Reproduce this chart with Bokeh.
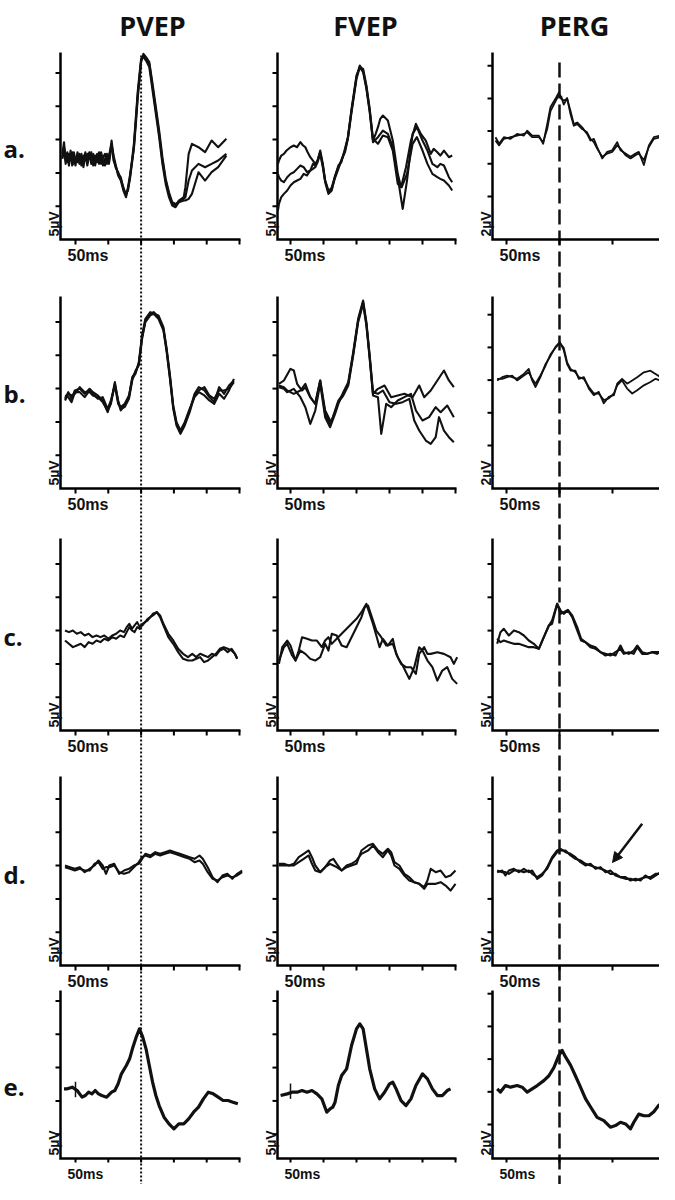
import math
from bokeh.plotting import figure
from bokeh.models import Range1d, Arrow, NormalHead
from bokeh.core.properties import value
from bokeh.embed import file_html
from bokeh.resources import INLINE

# ------------------------------------------------------------------ data
COLUMNS = ["PVEP", "FVEP", "PERG"]
ROW_KEYS = ["a", "b", "c", "d", "e"]
ROW_LABELS = ["a.", "b.", "c.", "d.", "e."]
SCALE_LABELS = {
    "a": ["5µV", "5µV", "2µV"],
    "b": ["5µV", "5µV", "2µV"],
    "c": ["5µV", "5µV", "5µV"],
    "d": ["5µV", "5µV", "5µV"],
    "e": ["5µV", "5µV", "2µV"],
}
TIME_LABEL = "50ms"
VEP_TICKS_MS = [0, 50, 100, 150, 200, 250]
PERG_TICKS_MS = [0, 50, 100, 150]
P100_MS = 100          # dotted reference line (PVEP)
P50_MS = 50            # dashed reference line (PERG)
ARROW_FROM = (128, 7.0)   # PERG row d, ms / µV
ARROW_TO = (100, 1.2)
STIM_MS = 0

# ---- row a
PVEP_A_T = [-20,-17.5,-15,-12.5,-10,-7.5,-5,-2.5,0,3,6,9,12,15,18,21,24,27,30,33,36,39,42,45,48,51,55,58,61,65,69,73,77,80,83,86,89,92,95,100,103.5,107.5,112.5,117.5,122.5,127.5,132.5,137.5,142.5,147.5,152.5,157.5,165,167.5,172.5,177.5,187.5,197.5,207.5,217.5,230]
PVEP_A1_V = [0.5,2.25,-0.5,0.75,-1.25,1.0,-0.75,0.25,-1.25,0.75,-0.5,0.5,-1.5,0.25,-0.75,0.75,-1.0,0.0,-1.25,0.5,-0.5,0.25,-1.25,-0.25,0.25,-0.5,2.5,0.0,-1.5,-2.25,-3.25,-4.5,-5.75,-4.75,-3.25,-1.0,1.5,5.5,9.5,14.5,15.25,14.75,14.0,10.5,7.0,3.5,-0.5,-3.5,-5.5,-7.0,-7.25,-6.5,-6.0,-4.5,0.5,2.0,1.5,0.75,2.5,1.5,2.75]
PVEP_A2_V = [-0.25,1.5,0.25,-0.75,0.5,-0.5,0.75,-1.0,0.0,-0.75,0.5,-1.25,0.25,-0.5,0.5,-0.25,0.75,-1.25,0.25,-0.75,0.75,-1.0,0.0,0.5,-1.0,0.25,2.0,-0.5,-1.25,-2.5,-3.0,-4.75,-5.5,-5.0,-3.0,-0.5,2.0,6.0,10.0,14.75,15.0,14.5,13.5,10.0,6.5,3.0,-1.0,-4.0,-6.0,-7.25,-7.5,-6.75,-6.25,-6.0,-3.5,-2.0,-1.0,-1.5,-1.0,-0.5,0.5]
PVEP_A3_V = [0.0,1.0,-1.0,0.5,-0.5,0.25,-1.25,0.75,-0.5,0.25,-1.0,0.0,-0.75,0.75,-1.25,0.25,-0.25,0.5,-0.5,-0.25,-1.0,0.75,-0.5,-1.25,0.5,-1.0,1.75,0.25,-1.0,-2.75,-3.5,-5.0,-6.0,-4.5,-2.75,-0.75,1.25,5.0,9.0,14.25,15.5,15.0,14.25,11.0,7.5,4.0,0.0,-3.25,-5.25,-6.75,-7.0,-6.75,-6.5,-6.5,-6.25,-5.5,-2.25,-3.5,-2.25,-1.5,0.25]

FVEP_A1_T = [-19,-17.5,-14,-10,-6,0,5,10,15,19,22.5,26,30,34,37.5,41,45,49,52.5,57.5,62.5,67,72.5,77,82.5,87,92.5,100,105,110,115,120,125,129,132.5,136,140,147.5,155,162.5,167.5,175,182.5,190,197.5,205,212.5,217,222.5,227,232.5,240,245]
FVEP_A1_V = [0.5,1.0,1.75,2.0,2.5,3.0,3.25,3.0,3.75,3.25,3.0,2.25,1.5,1.0,0.5,1.0,2.5,0.5,-2.0,-3.75,-3.0,-1.5,0.0,1.0,2.5,4.5,8.5,13.5,15.25,14.5,12.0,8.5,4.0,5.0,6.0,7.25,7.75,7.0,4.0,-1.0,-3.0,0.0,4.0,6.5,5.0,4.0,2.0,2.75,2.25,1.75,2.5,1.5,1.75]
FVEP_A2_T = [-19,-17.5,-14,-10,-5,0,5,10,15,20,25,30,34,37.5,41,45,49,52.5,57.5,62.5,67,72.5,77,82.5,87,92.5,100,105,110,115,120,125,132.5,140,147.5,155,162.5,170,176.5,185,191.5,200,207.5,215,222.5,227,232.5,240,245]
FVEP_A2_V = [-1.0,-1.5,-2.0,-2.25,-1.5,-1.0,-0.75,-0.25,0.25,0.0,-0.75,-0.5,0.5,0.25,1.0,2.25,0.25,-2.0,-3.5,-3.25,-1.75,-0.25,1.0,2.25,4.25,8.25,13.25,15.0,14.25,11.75,8.25,3.75,4.5,5.5,5.0,3.0,-1.5,-6.25,-2.0,5.0,6.0,4.0,2.5,0.5,0.0,0.5,0.25,-1.5,-2.25]
FVEP_A3_T = [-19,-17.5,-14,-10,-5,0,5,10,15,20,25,30,34,37.5,41,45,49,52.5,57.5,62.5,67,72.5,77,82.5,87,92.5,100,105,110,115,120,125,132.5,140,147.5,155,162.5,168.5,176.5,185,191.5,200,207.5,215,222.5,227,232.5,240,245]
FVEP_A3_V = [-6.5,-5.5,-4.5,-4.0,-3.5,-2.75,-2.25,-2.0,-1.75,-1.0,-1.25,-0.5,-0.25,0.0,0.75,2.0,0.0,-2.25,-4.0,-3.5,-1.5,0.25,0.75,2.75,4.5,8.75,13.75,15.0,14.75,12.25,8.75,4.25,3.5,4.75,4.5,2.5,-2.5,-3.0,-1.0,3.5,4.5,2.5,0.5,-1.0,-1.5,-1.75,-2.0,-2.75,-3.5]

PERG_A_T = [-10.4,-7,-2.5,3.8,10,16.4,19.5,24.2,30.5,34.6,38.4,41.5,46.2,49.4,51.6,54,57.2,60.4,63.5,66.7,71.4,76,79.2,82.4,85.5,90.3,95,99.7,104.4,107.5,112.3,117,121.7,124.8,129.6,134.3,139,145.3,151.6]
PERG_A1_V = [0,-0.4,0,-0.1,0.2,0.1,0.4,0.1,0.1,-0.4,0.8,1.85,2.35,2.75,2.35,2.25,2.35,1.6,0.8,0.9,0.6,0.2,-0.2,-0.1,-0.6,-1.3,-0.9,-0.8,-0.3,-0.8,-1.0,-1.2,-1.0,-0.9,-1.7,-0.5,0,0.1,0.2]
PERG_A2_V = [-0.2,-0.5,-0.1,0.0,0.1,0.2,0.3,0.0,0.0,-0.3,0.5,1.6,2.2,2.6,2.5,2.0,2.4,1.4,0.7,0.8,0.5,0.3,-0.1,-0.3,-0.7,-1.2,-1.0,-0.9,-0.5,-0.7,-1.1,-1.3,-1.1,-1.0,-1.4,-0.6,-0.1,0.0,0.2]

# ---- row b
PVEP_B_T = [-16,-11,-6,-1,6.5,14,21.5,26.5,34,41.5,49,54,60,65,69,75,81.5,86.5,91.5,96.5,101.5,106.5,114,119,126.5,134,139,144,149,154,160,166.5,174,181.5,188,196.5,204,211.5,219,226.5,234,241.5]
PVEP_B1_V = [-0.75,0.25,-0.75,0.5,0.75,0,0.75,0.25,-0.25,-1.0,-2.75,-1.25,1.75,-1.25,-2.5,-1.75,-0.5,2.5,3.25,4.5,8.5,11.0,12.0,12.25,11.5,9.75,6.5,2.5,-2.0,-4.5,-5.75,-4.5,-2.5,0,1.0,0.5,-0.5,-1.25,1.0,0,1.25,2.0]
PVEP_B2_V = [-0.25,-0.5,-1.25,0.25,0.25,-0.5,0.5,0.0,-0.75,-0.5,-2.25,-1.0,1.25,-1.5,-2.0,-1.5,-0.25,2.25,3.0,4.75,8.75,11.25,12.25,12.0,11.25,9.5,6.25,2.25,-2.25,-4.75,-6.0,-4.75,-2.75,-0.25,0.5,1.0,-0.25,-0.75,0.5,0.5,0.75,1.75]
PVEP_B3_V = [-1.0,0.0,-0.25,0.0,1.0,0.25,0.25,-0.25,-0.5,-1.25,-2.5,-1.5,1.5,-1.0,-2.25,-2.0,-0.75,2.0,3.5,4.25,8.25,10.75,11.75,12.0,11.75,10.0,6.75,2.75,-1.75,-4.25,-5.5,-4.25,-2.25,-0.5,0.25,-0.25,-1.0,-1.5,0.0,-0.75,0.5,2.25]

FVEP_B1_T = [-17.5,-10,0,5,10,17.5,22.5,30,37.5,45,52.5,60,62.5,67.5,72.5,80,87.5,95,102.5,110,115,120,125,132.5,142.5,152.5,162.5,172.5,185,195,202.5,212.5,222.5,232.5,240,247.5]
FVEP_B1_V = [0.25,0.75,2.5,2.25,0.25,-0.75,-0.25,-1.75,-2.75,0.75,-3.75,-5.25,-5.25,-3.75,-2.25,-1.25,0.25,4.75,9.75,12.5,9.25,4.25,-1.25,-0.5,0.0,-1.75,-1.5,-1.25,-1.75,0.0,-1.75,-0.75,0.75,2.25,0.75,-0.25]
FVEP_B2_T = [-17.5,-10,-5,5,15,22.5,30,37.5,45,52.5,60,67.5,72.5,80,87.5,95,102.5,110,115,120,125,132.5,137.5,145,152.5,162.5,172.5,182.5,190,200,210,220,227.5,237.5,247.5]
FVEP_B2_V = [0.0,-0.25,-0.75,-1.25,-0.75,0.25,-1.75,-2.75,0.75,-4.25,-5.75,-4.0,-2.5,-1.5,0.0,4.5,9.5,12.25,9.0,4.0,-1.5,-1.75,-7.25,-2.75,-3.25,-2.25,-1.75,-1.25,-3.75,-5.25,-4.75,-3.25,-4.0,-3.0,-4.75]
FVEP_B3_T = [-17.5,-10,-5,5,15,22.5,30,37.5,45,52.5,60,67.5,72.5,80,87.5,95,102.5,110,115,120,125,132.5,140,150,160,170,180,187.5,195,205,212.5,220,225,232.5,240,247.5]
FVEP_B3_V = [-0.25,-0.5,-1.0,-0.5,-1.75,-3.25,-5.75,-3.75,0.25,-4.75,-6.25,-4.25,-2.75,-1.0,0.5,5.0,10.0,12.75,9.5,4.5,-1.0,-1.25,-0.75,-2.5,-2.75,-2.5,-2.0,-5.25,-6.75,-8.25,-8.75,-7.75,-4.75,-6.75,-7.75,-8.5]

PERG_B_T = [-8.8,-4,0.6,5.3,10,16.4,21,24.2,27.4,32,36.8,41.5,46.2,50.3,54,57.2,60.4,65,68.2,73,77.7,82.4,87,91.8,96.5,101.3,104.4,109,113.8,118.6,123.3,129.6,135.8,140.6,145.3,151.6]
PERG_B1_V = [-0.1,0.1,0.2,0.1,0,0.3,0.6,-0.1,-0.5,0.1,0.9,1.4,1.95,2.25,1.75,0.9,0.5,0.5,0,0.1,-0.6,-1.0,-0.8,-1.5,-1.1,-1.0,-0.3,0,-0.3,-0.1,0.1,0.4,0.5,0.3,0.1,-0.4]
PERG_B2_V = [0.0,0.0,0.1,0.2,-0.1,0.2,0.4,0.0,-0.3,0.2,0.8,1.5,1.9,2.2,1.9,1.0,0.6,0.4,0.1,0.0,-0.5,-0.9,-0.9,-1.3,-1.2,-0.9,-0.4,-0.1,-0.6,-0.9,-0.7,-0.4,-0.2,0.0,-0.1,-0.6]

# ---- row c
PVEP_C_T = [-16,-10,-4,2,8,14,20,26,32,38,44,50,56,62,68,74,78,82,86,90,94,98,102,106,110,114,118,124,129,134,141.5,149,156.5,164,171.5,178,184,190,196,202,208,214,220,226,232,238,243,246.5]
PVEP_C1_V = [0.5,0.25,0.5,0.0,0.25,-0.25,0.0,-0.5,-0.25,-0.5,-0.25,-0.75,-0.25,0.0,0.5,0.25,1.0,1.5,0.75,1.25,1.75,1.0,1.25,1.75,2.0,2.5,2.75,3.25,2.75,1.5,0.0,-1.0,-2.25,-3.0,-3.5,-3.0,-3.5,-3.0,-3.25,-3.5,-3.0,-3.25,-2.5,-2.25,-2.75,-2.25,-3.0,-3.75]
PVEP_C2_V = [-1.0,-1.5,-2.0,-1.75,-1.5,-2.0,-1.25,-1.5,-1.0,-1.25,-0.75,-1.0,-0.5,-0.75,-0.25,-0.5,0.25,1.0,0.5,0.25,1.0,0.75,1.5,1.75,2.25,2.5,3.0,3.25,2.5,1.25,-0.5,-1.5,-2.75,-3.75,-4.0,-4.0,-3.75,-3.5,-4.25,-4.0,-3.5,-3.0,-2.25,-2.0,-2.25,-2.5,-3.0,-3.75]

FVEP_C1_T = [-17.5,-12.5,-5,0,7.5,12.5,17.5,25,32.5,40,47.5,52.5,57.5,62.5,70,77.5,85,92.5,100,107.5,115,120,125,130,135,140,147.5,155,160,167.5,175,182.5,190,195,202.5,207.5,212.5,222.5,232.5,242.5,247.5,252.5]
FVEP_C1_V = [-2.5,0.0,1.0,0.25,-2.0,-0.5,1.5,1.25,1.0,1.0,0.0,1.0,1.5,0.5,1.25,2.0,2.75,3.5,4.25,5.25,6.5,5.0,3.5,1.75,0.0,1.25,0.25,1.25,-1.0,-2.5,-3.0,-3.0,-4.0,-1.0,0.0,-1.0,-1.0,-0.75,-1.0,-1.5,-2.5,-1.5]
FVEP_C2_T = [-17.5,-10,-5,2.5,7.5,15,22.5,30,37.5,45,52.5,57.5,62.5,70,77.5,85,92.5,100,107.5,112.5,117.5,125,130,137.5,145,155,162.5,170,180,187.5,195,200,207.5,215,222.5,230,237.5,245,252.5]
FVEP_C2_V = [-2.0,0.0,0.5,-1.25,-2.0,-0.5,-1.0,-1.75,-2.0,-1.5,0.5,-0.5,2.0,1.75,0.25,0.0,1.5,3.0,4.5,6.0,6.25,4.0,2.5,1.5,0.25,0.5,-1.5,-2.75,-4.75,-3.0,0.0,-0.5,-2.0,-3.0,-5.0,-3.5,-3.0,-4.75,-5.5]

PERG_C_T = [-8.8,-5.7,-2.5,2.2,7,11.6,16.4,21,25.8,30.5,35.2,40,43,47.8,51,54,57.9,62,66.7,70.4,74.5,79.2,84,88.7,93.4,98,102.8,107.5,110.7,115.4,120,123.3,128,132.7,137.4,142,146.9,151.6]
PERG_C1_V = [-0.5,1.25,1.75,0.75,1.5,1.25,0.75,0.0,-0.5,-1.25,0.5,2.25,2.5,5.5,4.5,4.0,4.5,3.5,1.5,0.0,-0.25,-1.0,-1.25,-1.75,-2.0,-2.25,-1.75,-1.25,-2.0,-1.75,-2.0,-1.0,-2.0,-2.0,-1.75,-2.0,-1.5,-0.5]
PERG_C2_V = [0.25,-0.25,0.0,-0.25,-0.5,-0.5,-0.75,-1.0,-1.0,-1.25,0.5,2.25,3.0,5.5,4.0,4.25,4.6,3.75,2.0,0.25,-0.25,-0.75,-1.0,-1.75,-2.25,-2.0,-2.25,-0.75,-1.75,-2.0,-1.5,-0.75,-1.75,-2.0,-1.75,-1.75,-1.75,-0.25]

# ---- row d
PVEP_D_T = [-16,-8.5,-1,6.5,14,21.5,29,35,41.5,46.5,51.5,59,66.5,74,81.5,89,96.5,101.5,106.5,114,121.5,129,136.5,144,151.5,159,166.5,174,181.5,189,194,201.5,209,216.5,224,231.5,239,246.5,254]
PVEP_D1_V = [0.0,-0.25,-0.5,-0.25,-1.0,-0.5,0.0,0.75,0.0,-1.25,0.0,0.25,-1.25,-0.75,-0.5,0.0,0.25,1.0,1.75,1.5,2.0,1.75,2.0,2.25,2.0,1.75,1.5,1.25,1.0,1.5,1.0,-0.25,-1.75,-2.5,-1.5,-1.25,-2.0,-1.25,-0.75]
PVEP_D2_V = [-0.25,-0.5,-0.75,-0.5,-0.75,-0.75,0.25,0.5,-0.5,-0.25,-0.25,0.0,-1.0,-1.25,-1.0,-0.25,0.5,1.25,1.5,1.25,1.75,1.5,1.75,2.0,1.75,1.5,1.25,1.0,0.5,0.75,0.25,-1.0,-2.0,-2.25,-1.75,-1.5,-1.75,-1.5,-1.0]

FVEP_D_T = [-17.5,-10,-2.5,5,12.5,20,27.5,32.5,37.5,45,52.5,60,65,70,77.5,85,92.5,100,107.5,117.5,125,132.5,140,147.5,152.5,157.5,165,172.5,180,187.5,195,202.5,207.5,212.5,220,227.5,235,242.5,250]
FVEP_D1_V = [0.25,0.25,0.0,0.25,1.25,1.75,2.25,1.25,0.0,-1.0,-0.25,0.75,1.0,0.25,-0.75,-0.25,0.0,0.25,2.25,3.0,3.25,2.25,1.75,2.5,2.0,0.5,0.0,-1.25,-1.75,-2.5,-2.75,-3.25,-2.25,-0.5,-1.0,-0.75,-1.75,-1.5,-0.75]
FVEP_D2_V = [0.0,0.0,0.0,0.0,0.5,1.0,1.5,0.25,-0.75,-1.0,-0.25,0.25,0.0,-0.25,-0.75,0.0,0.25,0.75,1.75,2.25,3.0,2.0,1.25,2.25,1.5,0.0,-0.5,-1.5,-2.25,-2.5,-2.75,-3.5,-2.75,-2.75,-2.75,-2.5,-3.0,-3.75,-2.75]

PERG_D_T = [-8.8,-4,-1,2.2,7,11.6,16.4,21,24.2,29,33.6,38.4,43,47.8,51,55.7,60.4,65,69.8,74.5,79.2,84,88.7,93.4,98,102.8,107.5,112.3,117,121.7,126.4,131,135.8,140.6,145.3,150,154.7]
PERG_D1_V = [-0.25,0.0,-0.75,0.0,0.25,-0.25,0.25,-0.25,0.0,-1.25,-0.75,0.5,2.0,3.0,3.25,2.75,2.5,2.0,1.25,0.75,1.0,0.25,0.5,-0.25,0.0,-0.75,-1.0,-1.0,-1.5,-1.25,-1.5,-0.75,-1.25,-0.75,-0.25,-0.75,-0.5]
PERG_D2_V = [0.0,-0.25,-0.25,-0.5,0.0,0.0,-0.25,0.0,-0.5,-1.0,-0.5,0.25,1.75,2.75,3.0,3.0,2.25,1.75,1.5,1.0,0.75,0.5,0.25,0.0,-0.5,-0.5,-1.0,-1.25,-1.25,-1.5,-1.25,-1.0,-1.0,-0.5,-0.5,-0.5,-0.75]

# ---- row e
PVEP_E_T = [-17.5,-12.5,-5,2.5,10,15,20,25,30,35,40,47.5,55,60,65,70,77.5,82.5,87.5,92.5,97.5,102.5,107.5,112.5,117.5,122.5,127.5,135,142.5,150,157.5,165,172.5,180,187.5,195,202.5,210,217.5,225,232.5,240,247.5]
PVEP_E_V = [0.25,0.25,0.5,0.0,-1.0,-0.75,-0.25,-0.5,0.0,-0.5,-0.75,-1.0,-0.25,0.0,1.0,2.5,3.75,4.75,6.5,8.0,9.25,8.0,6.25,3.75,1.25,-0.75,-2.25,-4.0,-5.0,-5.75,-5.0,-5.0,-4.25,-3.25,-2.5,-1.25,-0.25,-0.5,-1.0,-1.5,-1.5,-1.75,-2.0]
FVEP_E_T = [-15,-5,2.5,10,17.5,25,32.5,40,47.5,55,60,64,67.5,72.5,77.5,85,92.5,100,105,110,115,120,127.5,135,142.5,150,155,160,167.5,175,182.5,190,200,207.5,215,222.5,230,237.5,242.5]
FVEP_E_V = [-0.5,-0.25,0.0,0.0,0.25,0.0,0.25,-0.25,-1.0,-3.0,-2.5,-2.25,-1.5,1.0,2.5,3.5,7.0,9.5,10.25,9.5,6.5,3.5,0.5,-1.0,0.0,1.25,1.5,0.5,-1.25,-2.0,-1.0,1.0,2.75,2.0,0.5,-0.5,-0.5,0.25,0.5]
PERG_E_T = [-8.8,-5.7,-1,3.8,10,14.8,19.5,24.2,29,35.2,40,44.7,49.4,52.5,55.7,60.4,65,69.8,74.5,79.2,85.5,91.8,98,102.8,107.5,112.3,117,120.1,124.8,129.6,134.3,139,143.7,148.4,153.1]
PERG_E_V = [0.0,-0.2,0.2,0.1,0.2,0.1,-0.2,0.0,0.2,0.5,0.8,1.3,2.05,2.35,1.95,1.45,0.8,0.1,-0.6,-1.1,-1.75,-1.95,-2.35,-2.25,-2.05,-2.15,-2.45,-2.05,-1.55,-1.65,-1.65,-1.4,-1.0,-1.1,-1.1]

PANEL_TRACES = {
    ("a", "PVEP"): [(PVEP_A_T, PVEP_A1_V), (PVEP_A_T, PVEP_A2_V), (PVEP_A_T, PVEP_A3_V)],
    ("a", "FVEP"): [(FVEP_A1_T, FVEP_A1_V), (FVEP_A2_T, FVEP_A2_V), (FVEP_A3_T, FVEP_A3_V)],
    ("a", "PERG"): [(PERG_A_T, PERG_A1_V), (PERG_A_T, PERG_A2_V)],
    ("b", "PVEP"): [(PVEP_B_T, PVEP_B1_V), (PVEP_B_T, PVEP_B2_V), (PVEP_B_T, PVEP_B3_V)],
    ("b", "FVEP"): [(FVEP_B1_T, FVEP_B1_V), (FVEP_B2_T, FVEP_B2_V), (FVEP_B3_T, FVEP_B3_V)],
    ("b", "PERG"): [(PERG_B_T, PERG_B1_V), (PERG_B_T, PERG_B2_V)],
    ("c", "PVEP"): [(PVEP_C_T, PVEP_C1_V), (PVEP_C_T, PVEP_C2_V)],
    ("c", "FVEP"): [(FVEP_C1_T, FVEP_C1_V), (FVEP_C2_T, FVEP_C2_V)],
    ("c", "PERG"): [(PERG_C_T, PERG_C1_V), (PERG_C_T, PERG_C2_V)],
    ("d", "PVEP"): [(PVEP_D_T, PVEP_D1_V), (PVEP_D_T, PVEP_D2_V)],
    ("d", "FVEP"): [(FVEP_D_T, FVEP_D1_V), (FVEP_D_T, FVEP_D2_V)],
    ("d", "PERG"): [(PERG_D_T, PERG_D1_V), (PERG_D_T, PERG_D2_V)],
    ("e", "PVEP"): [(PVEP_E_T, PVEP_E_V)],
    ("e", "FVEP"): [(FVEP_E_T, FVEP_E_V)],
    ("e", "PERG"): [(PERG_E_T, PERG_E_V)],
}

# ------------------------------------------------------------------ layout (pixels)
W, H = 659, 1184
COL_LAYOUT = {
    "PVEP": dict(axis=60, zero=75, ppm=0.656, end=240, title_x=152),
    "FVEP": dict(axis=277, zero=290, ppm=0.66, end=456, title_x=365),
    "PERG": dict(axis=492, zero=506, ppm=1.06, end=667, title_x=574),
}
ROW_LAYOUT = {
    "a": dict(bottom=239, tick_ref=239, top=52, label_y=148, time_y=255, fs="16px", tl=5),
    "b": dict(bottom=488, tick_ref=488, top=296, label_y=393, time_y=504, fs="16px", tl=5),
    "c": dict(bottom=730, tick_ref=730, top=538, label_y=636, time_y=746, fs="16px", tl=5),
    "d": dict(bottom=965, tick_ref=965, top=776, label_y=874, time_y=981, fs="16px", tl=5),
    "e": dict(bottom=1158, tick_ref=1167, top=990, label_y=1087, time_y=1173, fs="14px", tl=4),
}
BASELINE_PX = {
    ("a", "PVEP"): 156.7, ("a", "FVEP"): 166.7, ("a", "PERG"): 136.7,
    ("b", "PVEP"): 393.3, ("b", "FVEP"): 385.0, ("b", "PERG"): 378.3,
    ("c", "PVEP"): 633.3, ("c", "FVEP"): 646.7, ("c", "PERG"): 640.0,
    ("d", "PVEP"): 865.0, ("d", "FVEP"): 865.0, ("d", "PERG"): 870.0,
    ("e", "PVEP"): 1090.0, ("e", "FVEP"): 1091.7, ("e", "PERG"): 1088.3,
}
PX_PER_UV = {"5µV": 6.67, "2µV": 16.33}
TICK_OFFSETS = {"5µV": [33.3 * k for k in range(1, 6)],
                "2µV": [43 + 32.7 * k for k in range(5)]}
INK = "#111111"

p = figure(width=W, height=H, x_range=Range1d(0, W), y_range=Range1d(H, 0),
           x_axis_type=None, y_axis_type=None, output_backend="svg",
           toolbar_location=None, min_border=0, outline_line_color=None,
           background_fill_color="white", border_fill_color="white")
p.grid.visible = False

xr = {}
for col in COLUMNS:
    c = COL_LAYOUT[col]
    xr["x_" + col] = Range1d(-c["zero"] / c["ppm"], (W - c["zero"]) / c["ppm"])
yr = {}
for rk in ROW_KEYS:
    for ci, col in enumerate(COLUMNS):
        s = PX_PER_UV[SCALE_LABELS[rk][ci]]
        b = BASELINE_PX[(rk, col)]
        yr[f"y_{rk}_{col}"] = Range1d((b - H) / s, b / s)
p.extra_x_ranges = xr
p.extra_y_ranges = yr

# reference latency lines (through all rows)
p.line([P100_MS, P100_MS], [55, H], x_range_name="x_PVEP",
       line_color=INK, line_width=2, line_dash="2 2")
p.line([P50_MS, P50_MS], [62, H], x_range_name="x_PERG",
       line_color=INK, line_width=2.5, line_dash="15 6")

for ri, rk in enumerate(ROW_KEYS):
    rl = ROW_LAYOUT[rk]
    for ci, col in enumerate(COLUMNS):
        unit = SCALE_LABELS[rk][ci]
        s = PX_PER_UV[unit]
        cl = COL_LAYOUT[col]
        ppm = cl["ppm"]
        base = BASELINE_PX[(rk, col)]
        xn, yn = "x_" + col, f"y_{rk}_{col}"
        ax = (cl["axis"] - cl["zero"]) / ppm
        xe = (cl["end"] - cl["zero"]) / ppm
        yb = (base - rl["bottom"]) / s
        yt = (base - rl["top"]) / s
        y_ref = (base - rl["tick_ref"]) / s
        # axes
        p.line([ax, ax, xe], [yt, yb, yb], x_range_name=xn, y_range_name=yn,
               line_color="black", line_width=2.5, line_join="miter")
        yt_vals = [y_ref + o / s for o in TICK_OFFSETS[unit]]
        p.segment(x0=[ax - 5 / ppm] * len(yt_vals), y0=yt_vals,
                  x1=[ax] * len(yt_vals), y1=yt_vals,
                  x_range_name=xn, y_range_name=yn, line_color="black", line_width=2)
        ticks = PERG_TICKS_MS if col == "PERG" else VEP_TICKS_MS
        p.segment(x0=ticks, y0=[yb] * len(ticks), x1=ticks,
                  y1=[yb - rl["tl"] / s] * len(ticks),
                  x_range_name=xn, y_range_name=yn, line_color="black", line_width=2)
        # scale labels
        p.text(x=[ax - 7 / ppm], y=[yb + 3 / s], text=[unit], angle=math.pi / 2,
               x_range_name=xn, y_range_name=yn, text_font=value("Liberation Sans"),
               text_font_style="bold", text_font_size="14px", text_color=INK,
               text_align="left", text_baseline="alphabetic")
        p.text(x=[ax + 7 / ppm], y=[(base - rl["time_y"]) / s], text=[TIME_LABEL],
               x_range_name=xn, y_range_name=yn, text_font=value("Liberation Sans"),
               text_font_style="bold", text_font_size=rl["fs"],
               text_color=INK, text_align="left", text_baseline="alphabetic")
        # traces
        lw = 3.2 if rk == "e" else (1.8 if col == "PERG" and unit == "2µV" else 2.1)
        for t, v in PANEL_TRACES[(rk, col)]:
            n = min(len(t), len(v))
            p.line(t[:n], v[:n], x_range_name=xn, y_range_name=yn,
                   line_color=INK, line_width=lw, line_join="round")
        if rk == "e" and col != "PERG":
            p.segment(x0=[STIM_MS], y0=[-1.0], x1=[STIM_MS], y1=[1.3],
                      x_range_name=xn, y_range_name=yn, line_color=INK, line_width=1.5)
    # row label
    p.text(x=[3], y=[rl["label_y"]], text=[ROW_LABELS[ri]],
           text_font=value("Open Sans"), text_font_style="bold", text_font_size="24px",
           text_color=INK, text_align="left", text_baseline="alphabetic")

# column titles
p.text(x=[COL_LAYOUT[c]["title_x"] for c in COLUMNS], y=[25] * 3, text=COLUMNS,
       text_font=value("Open Sans"), text_font_style="bold", text_font_size="27px",
       text_color=INK, text_align="center", text_baseline="alphabetic")

# arrow in PERG row d
p.add_layout(Arrow(x_start=ARROW_FROM[0], y_start=ARROW_FROM[1],
                   x_end=ARROW_TO[0], y_end=ARROW_TO[1],
                   x_range_name="x_PERG", y_range_name="y_d_PERG",
                   line_color=INK, line_width=2.5,
                   end=NormalHead(size=10, fill_color=INK, line_color=INK)))

open("out.html", "w").write(file_html(p, INLINE))
